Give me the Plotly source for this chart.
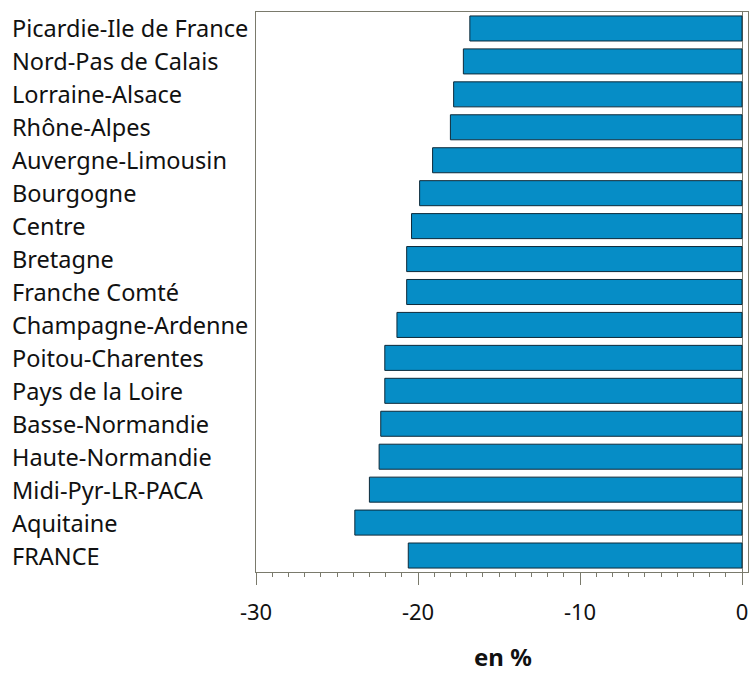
import plotly.graph_objects as go

regions = ["Picardie-Ile de France", "Nord-Pas de Calais", "Lorraine-Alsace", "Rhône-Alpes",
           "Auvergne-Limousin", "Bourgogne", "Centre", "Bretagne", "Franche Comté",
           "Champagne-Ardenne", "Poitou-Charentes", "Pays de la Loire", "Basse-Normandie",
           "Haute-Normandie", "Midi-Pyr-LR-PACA", "Aquitaine", "FRANCE"]
values = [-16.8, -17.2, -17.8, -18.0, -19.1, -19.9, -20.4, -20.7, -20.7,
          -21.3, -22.05, -22.05, -22.3, -22.4, -23.0, -23.9, -20.6]
x_ticks = [-30, -20, -10, 0]
x_title = "en %"

FONT = "Noto Sans"
AXIS_COLOR = "#7a7a6c"
TXT = "#111111"

W, H = 749, 673
ML, MR, MT, MB = 256, 1, 12, 101
plot_w = W - ML - MR
plot_h = H - MT - MB

fig = go.Figure()
fig.add_trace(go.Bar(
    x=values, y=regions, orientation="h",
    marker=dict(color="#068dc6", line=dict(color="#0d2a3a", width=1)),
    hoverinfo="x+y",
))

for r in regions:
    fig.add_annotation(
        x=(10 - ML) / plot_w, xref="paper", y=r, yref="y", text=r, showarrow=False,
        xanchor="left", yanchor="middle", font=dict(family=FONT, size=23.5, color=TXT),
    )

# axis title
fig.add_annotation(
    x=0.502, xref="paper", y=-(656 - (H - MB)) / plot_h, yref="paper",
    text="<b>" + x_title + "</b>", showarrow=False, xanchor="center", yanchor="middle",
    font=dict(family=FONT, size=24, color=TXT),
)

fig.update_layout(
    width=W, height=H,
    margin=dict(l=ML, r=MR, t=MT, b=MB, autoexpand=False),
    plot_bgcolor="white", paper_bgcolor="white",
    bargap=0.24, showlegend=False,
    font=dict(family=FONT, size=22, color=TXT),
    xaxis=dict(
        range=[-30, 0.37], tickvals=x_ticks, ticktext=[str(v) for v in x_ticks],
        ticks="outside", ticklen=12, tickwidth=1, tickcolor=AXIS_COLOR,
        minor=dict(dtick=1, ticks="outside", ticklen=4, tickcolor=AXIS_COLOR, tickwidth=1, showgrid=False),
        showline=True, linecolor=AXIS_COLOR, linewidth=1, mirror=True,
        showgrid=False, zeroline=True, zerolinecolor=AXIS_COLOR, zerolinewidth=1,
        tickfont=dict(family=FONT, size=22, color=TXT),
        ticklabelstandoff=9,
        automargin=False,
    ),
    yaxis=dict(
        categoryorder="array", categoryarray=regions[::-1],
        range=[-0.5, len(regions) - 0.5],
        showticklabels=False, ticks="", automargin=False,
        showline=True, linecolor=AXIS_COLOR, linewidth=1, mirror=True, showgrid=False,
    ),
)

fig.write_html("out.html", config={"displayModeBar": False},
               post_script="document.body.style.margin='0';document.body.style.overflow='hidden';")
